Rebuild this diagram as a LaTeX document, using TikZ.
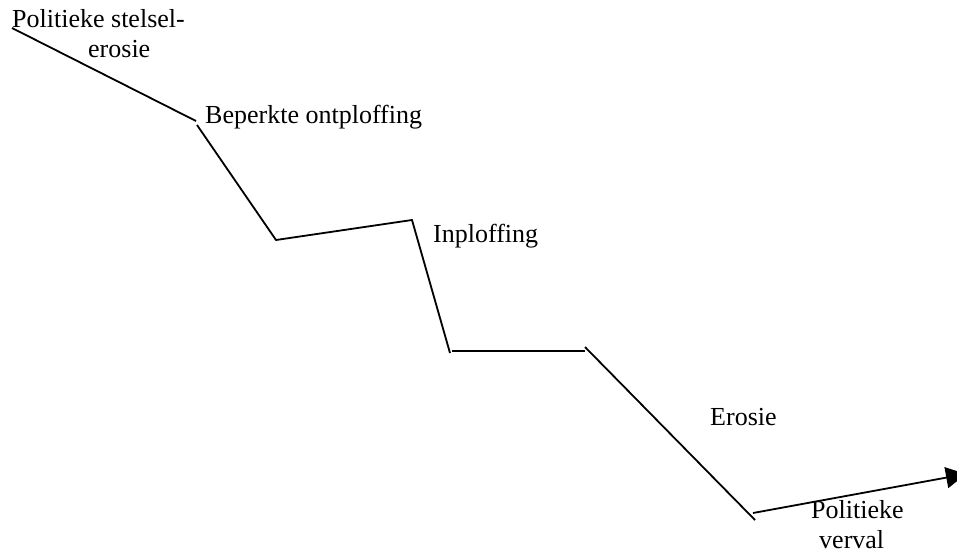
\documentclass[tikz,border=0pt]{standalone}
\usepackage{fontspec}
\setmainfont{Liberation Serif}
\usetikzlibrary{arrows.meta}
\begin{document}
\begin{tikzpicture}[x=1pt,y=-1pt,
  lbl/.style={inner sep=0pt,anchor=base west,font=\fontsize{26}{30}\selectfont},
  seg/.style={line width=1.8pt,line cap=butt}]
\useasboundingbox (0,0) rectangle (957,559);
\clip (0,0) rectangle (957,559);
% points
\coordinate (a1) at (12,28);
\coordinate (a2) at (196,121);
\coordinate (b1) at (197,125);
\coordinate (b2) at (276,240);
\coordinate (c2) at (412,220);
\coordinate (d2) at (450,353);
\coordinate (e1) at (452,351);
\coordinate (e2) at (585,351);
\coordinate (f1) at (585,347);
\coordinate (f2) at (755,520);
\coordinate (g1) at (753,513);
\coordinate (g2) at (966,474);
% lines
\draw[seg] (a1) -- (a2);
\draw[seg] (b1) -- (b2) -- (c2) -- (d2);
\draw[seg] (e1) -- (e2);
\draw[seg] (f1) -- (f2);
\draw[seg,-{Triangle[length=20pt,width=21pt]}] (g1) -- (g2);
% labels
\node[lbl] (t1) at (12,28) {Politieke stelsel-};
\node[lbl] (t1b) at (88,58) {erosie};
\node[lbl] (t2) at (205,123) {Beperkte ontploffing};
\node[lbl] (t3) at (433,242) {Inploffing};
\node[lbl] (t4) at (710,425) {Erosie};
\node[lbl] (t5) at (811,518) {Politieke};
\node[lbl] (t5b) at (819,548) {verval};
\end{tikzpicture}
\end{document}
